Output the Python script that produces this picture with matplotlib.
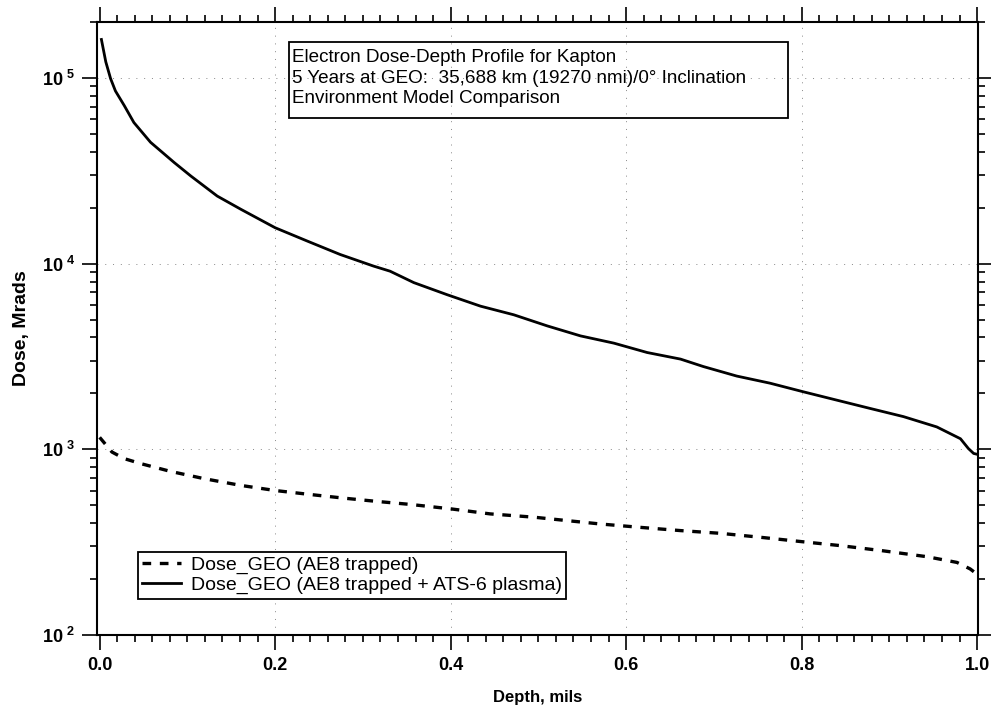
import matplotlib
matplotlib.use('Agg')
import matplotlib.pyplot as plt
from matplotlib.patches import Rectangle
from matplotlib.ticker import MultipleLocator, LogLocator, NullFormatter, FixedLocator

# ── Data ──────────────────────────────────────────────────────────────────────
depth_total = [0.002, 0.007, 0.0125, 0.018, 0.028, 0.039, 0.058, 0.085, 0.104,
               0.134, 0.161, 0.200, 0.237, 0.274, 0.312, 0.331, 0.358, 0.396,
               0.434, 0.472, 0.510, 0.548, 0.586, 0.624, 0.662, 0.688, 0.726,
               0.764, 0.802, 0.840, 0.878, 0.916, 0.954, 0.981, 0.990, 0.996, 1.000]
dose_total = [1.61e5, 1.22e5, 9.9e4, 8.5e4, 7.1e4, 5.75e4, 4.5e4, 3.5e4, 2.96e4,
              2.31e4, 1.96e4, 1.56e4, 1.32e4, 1.12e4, 9.7e3, 9.1e3, 7.9e3, 6.8e3,
              5.9e3, 5.3e3, 4.62e3, 4.08e3, 3.73e3, 3.32e3, 3.06e3, 2.79e3, 2.48e3,
              2.27e3, 2.04e3, 1.84e3, 1.66e3, 1.50e3, 1.32e3, 1.14e3, 1.01e3, 950, 940]

depth_ae8 = [0.0, 0.014, 0.028, 0.047, 0.081, 0.119, 0.161, 0.200, 0.240, 0.278,
             0.316, 0.354, 0.400, 0.445, 0.495, 0.533, 0.571, 0.616, 0.662, 0.707,
             0.753, 0.798, 0.844, 0.893, 0.943, 0.977, 0.992, 0.998]
dose_ae8 = [1160, 967, 891, 837, 760, 695, 639, 600, 571, 546,
            524, 505, 478, 449, 431, 413, 396, 380, 365, 353,
            336, 319, 303, 284, 264, 246, 227, 216]

x_labels = ['0.0', '0.2', '0.4', '0.6', '0.8', '1.0']
y_labels = [r'$\mathbf{10^{\ 2}}$', r'$\mathbf{10^{\ 3}}$', r'$\mathbf{10^{\ 4}}$', r'$\mathbf{10^{\ 5}}$']
title_lines = ['Electron Dose-Depth Profile for Kapton',
               '5 Years at GEO:  35,688 km (19270 nmi)/0\u00b0 Inclination',
               'Environment Model Comparison']
legend_labels = ['Dose_GEO (AE8 trapped)', 'Dose_GEO (AE8 trapped + ATS-6 plasma)']

# ── Style ─────────────────────────────────────────────────────────────────────
plt.rcParams.update({
    'font.family': 'Liberation Sans',
    'mathtext.fontset': 'custom',
    'mathtext.rm': 'Liberation Sans',
    'mathtext.bf': 'Liberation Sans:bold',
    'axes.linewidth': 1.5,
})

fig = plt.figure(figsize=(9.91, 7.16), dpi=100)
ax = fig.add_axes([0.0979, 0.1131, 0.8890, 0.8562])

ax.plot(depth_ae8, dose_ae8, color='black', linewidth=2.4, dashes=(2.6, 2.6),
        label=legend_labels[0])
ax.plot(depth_total, dose_total, color='black', linewidth=2.0,
        label=legend_labels[1])

ax.set_yscale('log')
ax.set_xlim(-0.003, 1.001)
ax.set_ylim(1e2, 2.0e5)

# grid: sparse dotted lines
for gx in [0.2, 0.4, 0.6, 0.8]:
    ax.axvline(gx, color='#888888', linewidth=0.7, linestyle=(0, (1, 7)), zorder=0)
for gy in [1e3, 1e4, 1e5]:
    ax.axhline(gy, color='#888888', linewidth=0.7, linestyle=(0, (1, 7)), zorder=0)

# ticks
ax.xaxis.set_major_locator(FixedLocator([0.0, 0.2, 0.4, 0.6, 0.8, 1.0]))
ax.set_xticklabels(x_labels, fontsize=13, fontweight='bold')
ax.xaxis.set_minor_locator(MultipleLocator(0.02))
ax.yaxis.set_major_locator(FixedLocator([1e2, 1e3, 1e4, 1e5]))
ax.set_yticklabels(y_labels, fontsize=13)
ax.yaxis.set_minor_locator(LogLocator(base=10, subs=range(2, 10)))
ax.yaxis.set_minor_formatter(NullFormatter())
ax.tick_params(which='both', direction='out', top=True, right=True, width=1.2)
ax.tick_params(which='major', length=11, pad=5)
ax.tick_params(which='minor', length=5)

ax.set_xlabel('Depth, mils', fontsize=12, fontweight='bold', labelpad=11)
ax.set_ylabel('Dose, Mrads', fontsize=14, fontweight='bold', labelpad=8)

leg = ax.legend(loc='upper left', bbox_to_anchor=(0.0465, 0.1354), borderaxespad=0,
                fancybox=False, edgecolor='black', framealpha=1, fontsize=14,
                handlelength=2.0, handletextpad=0.5, borderpad=0.22, labelspacing=0.12)
leg.get_frame().set_linewidth(1.3)

# title box
fig.patches.append(Rectangle((0.2916, 0.8352), 0.5035, 0.1061, transform=fig.transFigure,
                             fill=False, edgecolor='black', linewidth=1.3))
fig.text(0.2946, 0.9315, '\n'.join(title_lines), fontsize=13.6, va='top', ha='left',
         linespacing=1.28)

plt.savefig('out.png', dpi=100, facecolor='white')
